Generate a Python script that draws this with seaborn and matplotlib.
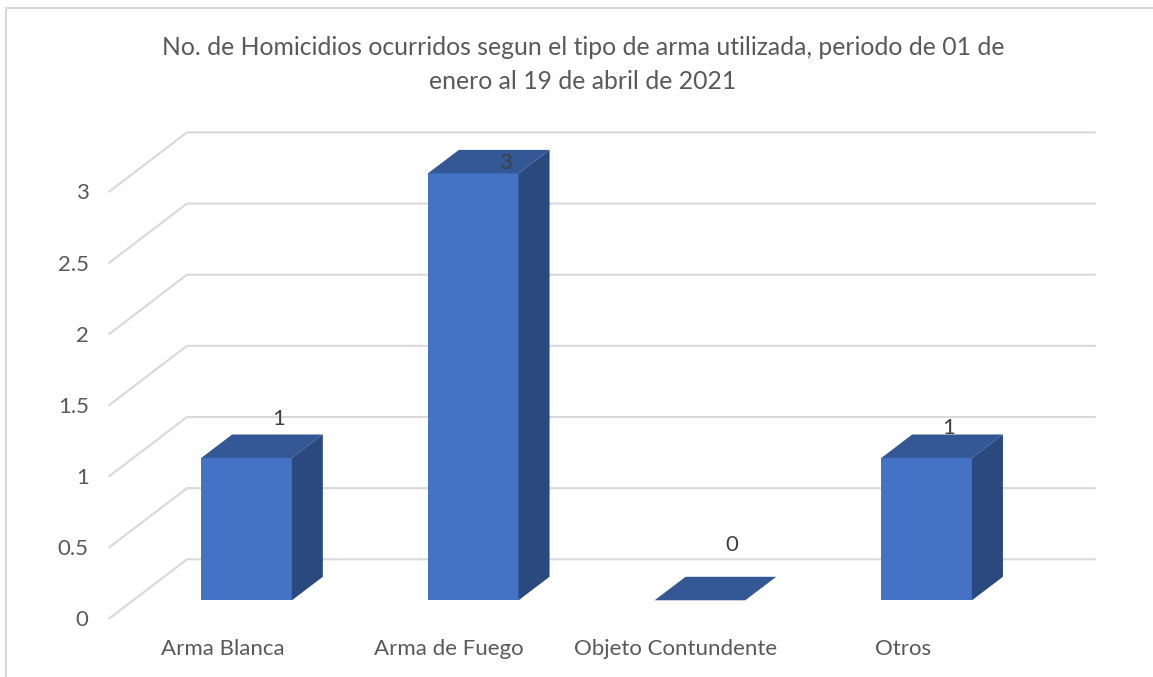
import pandas as pd
import matplotlib.pyplot as plt
import seaborn as sns
from matplotlib.lines import Line2D
from matplotlib.transforms import ScaledTranslation

# Data
armas = ["Arma Blanca", "Arma de Fuego", "Objeto Contundente", "Otros"]
homicidios = [1, 3, 0, 1]
y_ticks = [0, 0.5, 1, 1.5, 2, 2.5, 3]
y_tick_labels = ["0", "0.5", "1", "1.5", "2", "2.5", "3"]
titulo = "No. de Homicidios ocurridos segun el tipo de arma utilizada, periodo de 01 de\nenero al 19 de abril de 2021"

W, H, DPI = 1153, 677, 100
X_UNIT = 226.7  # pixels per category
Y_UNIT = 142.3  # pixels per homicide
X0, Y0 = 246.5, 600.3  # pixel position of first category, value 0

sns.set_theme(style="white")
plt.rcParams["font.family"] = ["Lato", "DejaVu Sans"]

df = pd.DataFrame({"arma": armas, "homicidios": homicidios})

fig = plt.figure(figsize=(W / DPI, H / DPI), dpi=DPI)
ax = fig.add_axes([
    (X0 - 0.5 * X_UNIT) / W,
    (H - Y0) / H,
    4 * X_UNIT / W,
    3 * Y_UNIT / H,
])

# Front faces of the bars
sns.barplot(data=df, x="arma", y="homicidios", color="#4472C4", saturation=1,
            width=0.4, ax=ax, zorder=3, linewidth=0)
ax.set_xlim(-0.5, 3.5)
ax.set_ylim(0, 3)

# Fake 3D: walls, tops and sides
bar_dx = 31 / X_UNIT
bar_dy = 23.5 / Y_UNIT
wall_front_x = (109 - X0) / X_UNIT
wall_back_x = (187 - X0) / X_UNIT
wall_right_x = (1095 - X0) / X_UNIT
wall_front_y = -18.4 / Y_UNIT
wall_back_y = 41 / Y_UNIT

for t in y_ticks:
    ax.plot([wall_front_x, wall_back_x, wall_right_x],
            [t + wall_front_y, t + wall_back_y, t + wall_back_y],
            color="#D9D9D9", lw=1.5, clip_on=False, zorder=1,
            solid_joinstyle="miter")

for bar, val in zip(ax.patches, homicidios):
    left = bar.get_x()
    right = left + bar.get_width()
    ax.fill([left, right, right + bar_dx, left + bar_dx],
            [val, val, val + bar_dy, val + bar_dy],
            color="#345795", lw=0, clip_on=False, zorder=3)
    if val > 0:
        ax.fill([right, right + bar_dx, right + bar_dx, right],
                [0, bar_dy, val + bar_dy, val],
                color="#2A4A7F", lw=0, clip_on=False, zorder=3)

# Data labels, offsets in pixels from bar centre / back of the top
label_dx = [32.5, 32, 31.5, 22]
label_dy = [15, -13, 32, 6]
for i, val in enumerate(homicidios):
    ax.annotate(str(val), (i, val + bar_dy),
                xytext=(label_dx[i] * 0.72, label_dy[i] * 0.72),
                textcoords="offset points", ha="center", va="center",
                fontsize=16, color="#404040", zorder=5, annotation_clip=False)

# Axis text
ax.set_xlabel("")
ax.set_ylabel("")
ax.set_yticks(y_ticks)
ax.set_yticklabels(y_tick_labels)
ax.tick_params(axis="y", length=0, pad=32, labelsize=16, labelcolor="#595959")
ax.tick_params(axis="x", length=0, pad=28, labelsize=16, labelcolor="#595959")
shift_y = ScaledTranslation(0, -18 / DPI, fig.dpi_scale_trans)
for lab in ax.get_yticklabels():
    lab.set_transform(lab.get_transform() + shift_y)
shift_x = ScaledTranslation(-24 / DPI, 0, fig.dpi_scale_trans)
for lab in ax.get_xticklabels():
    lab.set_transform(lab.get_transform() + shift_x)
sns.despine(ax=ax, left=True, bottom=True)

# Title
fig.text(583 / W, 1 - 64.5 / H, titulo, ha="center", va="center", fontsize=17.8,
         color="#595959", linespacing=1.55)

# Chart frame, only top and left show in the crop
fig.add_artist(Line2D([6 / W, 1], [1 - 7.5 / H, 1 - 7.5 / H], color="#D9D9D9", lw=1.5))
fig.add_artist(Line2D([6 / W, 6 / W], [0, 1 - 7.5 / H], color="#D9D9D9", lw=1.5))

fig.savefig("out.png", dpi=DPI)
plt.close(fig)
